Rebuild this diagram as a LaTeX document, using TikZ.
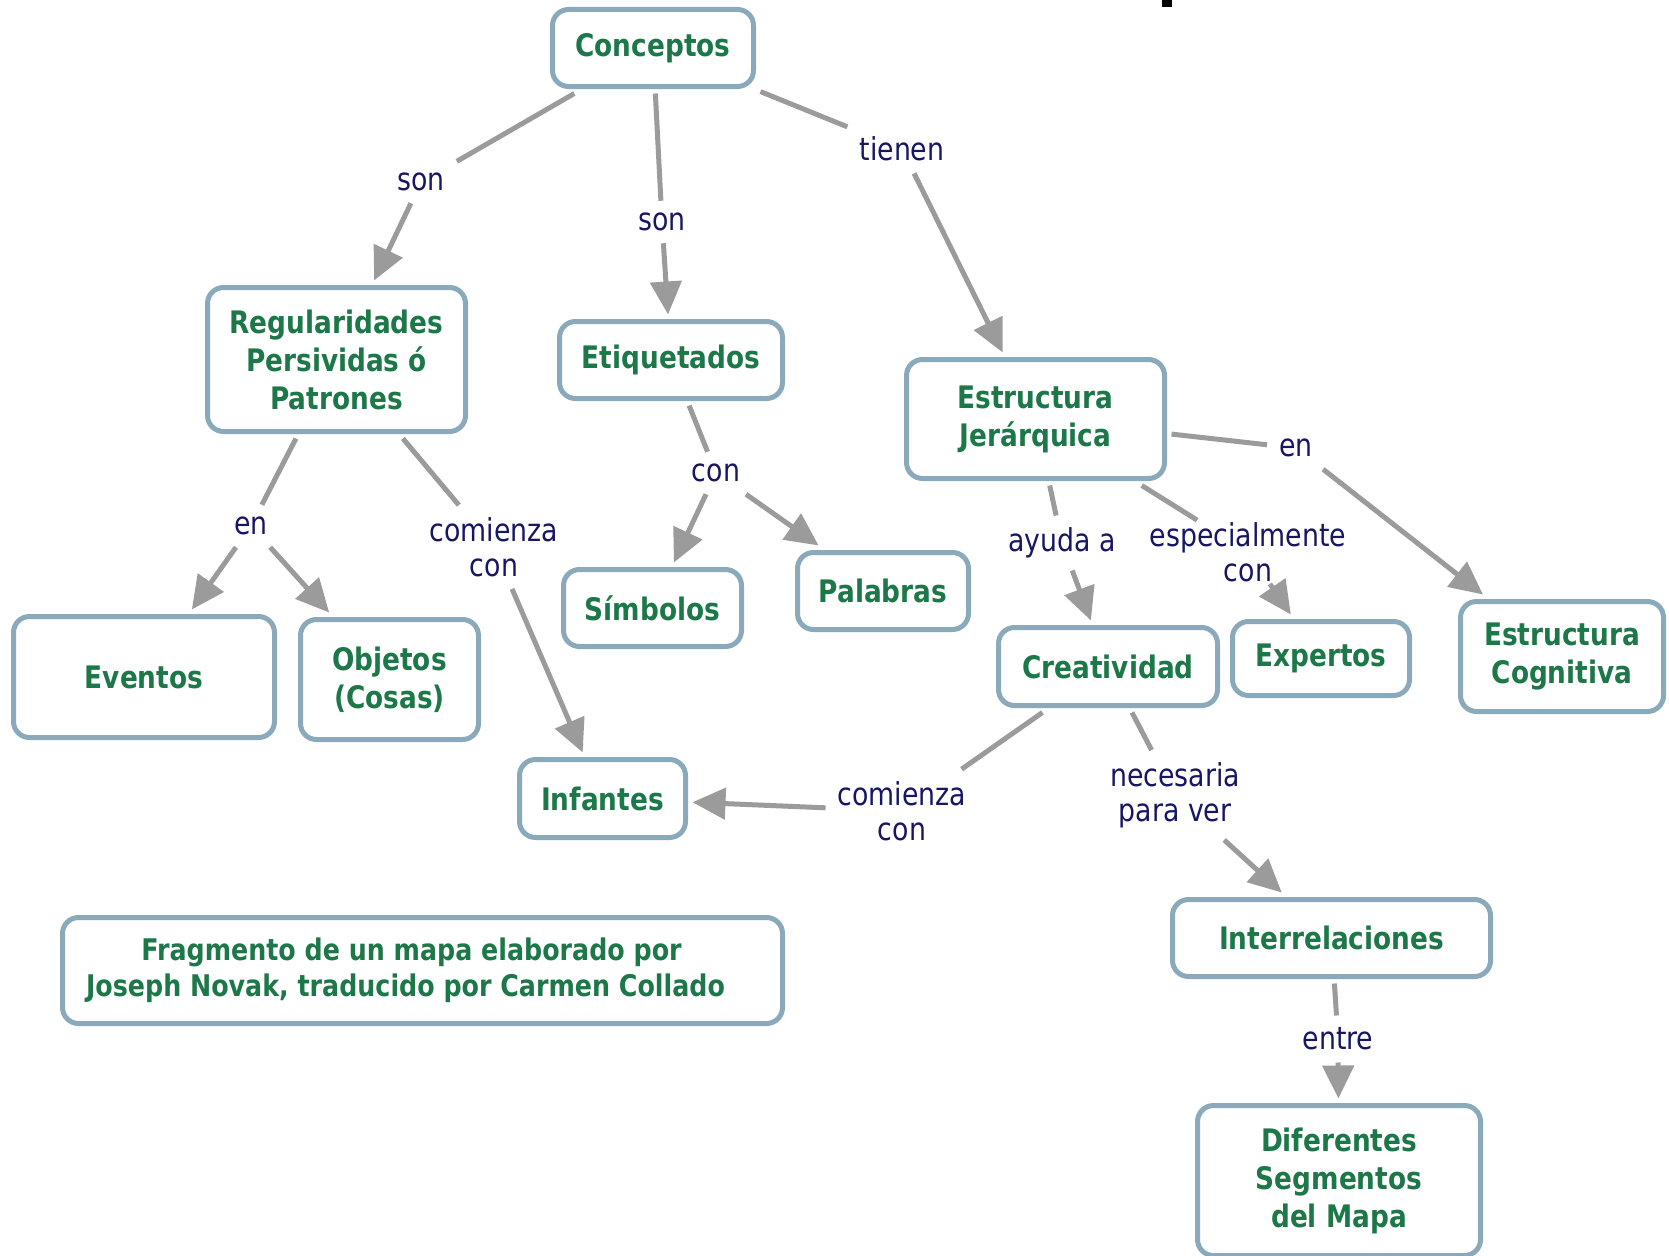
\documentclass[tikz,border=0pt]{standalone}
\usepackage{fontspec}
\setmainfont{DejaVu Sans}[FakeStretch=0.85]
\usetikzlibrary{arrows.meta}
\definecolor{bordc}{RGB}{138,170,188}
\definecolor{txtg}{RGB}{28,120,72}
\definecolor{navyc}{RGB}{22,22,100}
\definecolor{lineg}{RGB}{155,155,155}
\begin{document}
\begin{tikzpicture}[x=1pt,y=-1pt,
  concept/.style={draw=bordc, line width=5pt, rounded corners=16pt, fill=white,
    text=txtg, font=\bfseries\fontsize{31}{38}\selectfont, align=center,
    inner sep=0pt, outer sep=7pt},
  linklbl/.style={text=navyc, font=\fontsize{31.5}{35}\selectfont, align=center, inner sep=12pt},
  conn/.style={draw=lineg, line width=5pt},
  arr/.style={conn, -{Triangle[length=33pt,width=31pt]}}]
\useasboundingbox (0,0) rectangle (1669,1255);
\fill[black] (1162,0) rectangle (1172,7);
% concepts
\node[concept, minimum width=201pt, minimum height=77pt] (conceptos) at (653,48) {Conceptos};
\node[concept, minimum width=258pt, minimum height=144pt] (regul) at (336.5,359.5) {Regularidades\\Persividas ó\\Patrones};
\node[concept, minimum width=223pt, minimum height=77pt] (etiq) at (671,360) {Etiquetados};
\node[concept, minimum width=258pt, minimum height=119pt] (ej) at (1035.5,419) {Estructura\\Jerárquica};
\node[concept, minimum width=261pt, minimum height=121pt] (eventos) at (144,677) {Eventos};
\node[concept, minimum width=178pt, minimum height=120pt] (objetos) at (389.5,679.5) {Objetos\\(Cosas)};
\node[concept, minimum width=178pt, minimum height=77pt] (simbolos) at (652.5,608) {Símbolos};
\node[concept, minimum width=171pt, minimum height=77pt] (palabras) at (883,591) {Palabras};
\node[concept, minimum width=219pt, minimum height=78pt] (creat) at (1108,666.5) {Creatividad};
\node[concept, minimum width=177pt, minimum height=74pt] (expertos) at (1321,658.5) {Expertos};
\node[concept, minimum width=203pt, minimum height=110pt] (ec) at (1562,656.5) {Estructura\\Cognitiva};
\node[concept, minimum width=166pt, minimum height=78pt] (infantes) at (602.5,798.5) {Infantes};
\node[concept, minimum width=720pt, minimum height=106pt, font=\bfseries\fontsize{29.8}{36}\selectfont] (frag) at (422.5,970.5) {Fragmento de un mapa elaborado por\hspace*{22pt}\\Joseph Novak, traducido por Carmen Collado\hspace*{34pt}};
\node[concept, minimum width=318pt, minimum height=77pt] (interrel) at (1331.5,938) {Interrelaciones};
\node[concept, minimum width=283pt, minimum height=150pt] (dif) at (1339,1180.5) {Diferentes\\Segmentos\\del Mapa};
% link labels
\node[linklbl] (son1) at (421,182) {son};
\node[linklbl] (son2) at (662,222) {son};
\node[linklbl] (tienen) at (902,149) {tienen};
\node[linklbl] (en1) at (251,526) {en};
\node[linklbl] (com1) at (494,547) {comienza\\con};
\node[linklbl] (con1) at (716,473) {con};
\node[linklbl] (ayuda) at (1062,543) {ayuda a};
\node[linklbl, inner ysep=2pt] (esp) at (1248,552) {especialmente\\con};
\node[linklbl] (en2) at (1296,448) {en};
\node[linklbl] (com2) at (902,811) {comienza\\con};
\node[linklbl] (nec) at (1175,795) {necesaria\\para ver};
\node[linklbl] (entre) at (1338,1039) {entre};
% connectors
\draw[conn] (conceptos) -- (son1);
\draw[arr] (son1) -- (regul);
\draw[conn] (conceptos) -- (son2);
\draw[arr] (son2) -- (etiq);
\draw[conn] (conceptos) -- (tienen);
\draw[arr] (tienen) -- (ej);
\draw[conn] (regul) -- (en1);
\draw[arr] (en1) -- (eventos);
\draw[arr] (en1) -- (objetos);
\draw[conn] (regul) -- (com1);
\draw[arr] (com1) -- (infantes);
\draw[conn] (etiq) -- (con1);
\draw[arr] (con1) -- (simbolos);
\draw[arr] (con1) -- (palabras);
\draw[conn] (ej) -- (ayuda);
\draw[arr] (ayuda) -- (creat);
\draw[conn] (ej) -- (esp);
\draw[arr] (esp) -- (expertos);
\draw[conn] (ej) -- (en2);
\draw[arr] (en2) -- (ec);
\draw[conn] (creat) -- (com2);
\draw[arr] (com2) -- (infantes);
\draw[conn] (creat) -- (nec);
\draw[arr] (nec) -- (interrel);
\draw[conn] (interrel) -- (entre);
\draw[arr] (entre) -- (dif);
\end{tikzpicture}
\end{document}
